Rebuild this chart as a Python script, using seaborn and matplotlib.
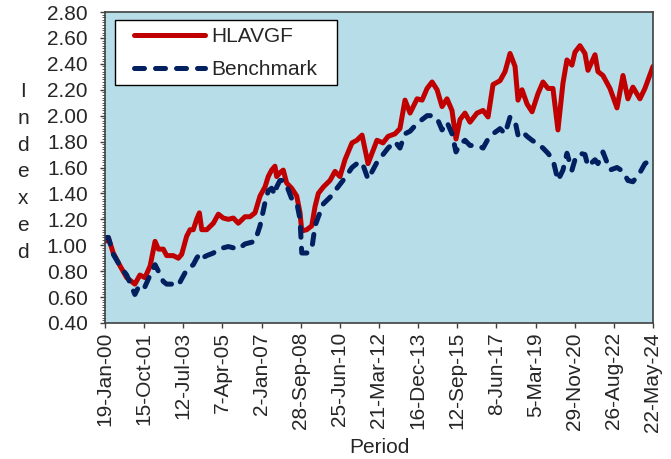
import matplotlib
matplotlib.use("Agg")
import matplotlib.pyplot as plt
import matplotlib.ticker as mticker
import matplotlib.patches as mpatches
import seaborn as sns
import pandas as pd

# values
dates = [
    "2000-01-19", "2000-03-13", "2000-06-01", "2000-09-20", "2001-01-05", "2001-05-18", "2001-08-07", "2001-10-28", "2002-01-20", "2002-04-10",
    "2002-06-03", "2002-08-22", "2002-10-16", "2003-01-31", "2003-04-22", "2003-06-16", "2003-09-05", "2003-10-30", "2003-12-21", "2004-02-14",
    "2004-03-29", "2004-05-07", "2004-07-27", "2004-11-11", "2005-01-31", "2005-04-20", "2005-07-11", "2005-10-01", "2005-12-20", "2006-04-08",
    "2006-06-28", "2006-09-17", "2006-12-08", "2007-02-27", "2007-04-20", "2007-06-14", "2007-08-07", "2007-09-04", "2007-10-27", "2007-12-20",
    "2008-02-13", "2008-05-04", "2008-07-25", "2008-09-17", "2008-10-15", "2009-01-04", "2009-03-26", "2009-05-19", "2009-07-11", "2009-10-01",
    "2010-01-16", "2010-04-07", "2010-06-27", "2010-09-16", "2011-01-08", "2011-03-28", "2011-06-20", "2011-09-25", "2012-02-17", "2012-05-25",
    "2012-08-15", "2012-12-06", "2013-02-24", "2013-05-17", "2013-08-07", "2013-11-29", "2014-02-18", "2014-05-10", "2014-07-30", "2014-10-19",
    "2015-01-08", "2015-03-29", "2015-06-18", "2015-08-22", "2015-10-26", "2016-01-15", "2016-04-05", "2016-07-28", "2016-11-03", "2017-01-23",
    "2017-04-14", "2017-08-06", "2017-10-26", "2018-01-15", "2018-04-06", "2018-05-24", "2018-07-28", "2018-10-18", "2019-01-07", "2019-04-13",
    "2019-07-03", "2019-09-22", "2019-12-12", "2020-03-02", "2020-05-22", "2020-07-26", "2020-10-15", "2020-12-03", "2021-02-22", "2021-05-14",
    "2021-07-02", "2021-10-24", "2021-12-11", "2022-03-02", "2022-06-24", "2022-10-16", "2023-01-21", "2023-04-11", "2023-07-01", "2023-10-23",
    "2024-01-12", "2024-05-22",
]

hlavgf = [
    1.03, 1.06, 0.94, 0.84, 0.75, 0.70, 0.77, 0.75, 0.84, 1.03,
    0.97, 0.97, 0.92, 0.92, 0.90, 0.93, 1.07, 1.12, 1.12, 1.20,
    1.25, 1.12, 1.12, 1.17, 1.24, 1.21, 1.20, 1.21, 1.17, 1.22,
    1.22, 1.25, 1.38, 1.45, 1.53, 1.58, 1.61, 1.53, 1.56, 1.58,
    1.48, 1.44, 1.38, 1.25, 1.11, 1.12, 1.15, 1.30, 1.40, 1.45,
    1.50, 1.57, 1.53, 1.66, 1.79, 1.81, 1.85, 1.63, 1.81, 1.79,
    1.84, 1.86, 1.90, 2.12, 2.02, 2.13, 2.12, 2.21, 2.26, 2.20,
    2.07, 2.13, 2.04, 1.82, 1.97, 2.02, 1.95, 2.02, 2.04, 1.99,
    2.24, 2.27, 2.34, 2.48, 2.38, 2.12, 2.20, 2.09, 2.03, 2.17,
    2.26, 2.21, 2.21, 1.89, 2.25, 2.43, 2.39, 2.49, 2.54, 2.48,
    2.35, 2.47, 2.34, 2.31, 2.21, 2.06, 2.31, 2.13, 2.22, 2.13,
    2.21, 2.38,
]

benchmark = [
    1.06, 1.06, 0.93, 0.84, 0.77, 0.62, 0.70, 0.68, 0.77, 0.85,
    0.80, 0.72, 0.70, 0.70, 0.69, 0.74, 0.81, 0.83, 0.85, 0.90,
    0.93, 0.90, 0.92, 0.94, 0.97, 0.98, 0.99, 0.98, 0.97, 1.01,
    1.02, 1.03, 1.15, 1.33, 1.42, 1.44, 1.39, 1.45, 1.50, 1.50,
    1.46, 1.36, 1.33, 1.20, 0.94, 0.94, 0.97, 1.15, 1.22, 1.32,
    1.37, 1.42, 1.47, 1.52, 1.60, 1.63, 1.64, 1.51, 1.64, 1.70,
    1.75, 1.80, 1.75, 1.86, 1.88, 1.94, 1.97, 2.00, 2.00, 1.98,
    1.89, 1.95, 1.86, 1.72, 1.78, 1.81, 1.77, 1.77, 1.75, 1.82,
    1.86, 1.90, 1.86, 1.99, 1.96, 1.85, 1.88, 1.84, 1.81, 1.78,
    1.75, 1.71, 1.66, 1.50, 1.58, 1.71, 1.58, 1.66, 1.71, 1.70,
    1.61, 1.66, 1.63, 1.72, 1.58, 1.60, 1.57, 1.50, 1.49, 1.56,
    1.63, 1.67,
]

df = pd.DataFrame({"date": pd.to_datetime(dates), "HLAVGF": hlavgf, "Benchmark": benchmark})

sns.set_style("ticks")
plt.rcParams["font.family"] = ["Liberation Sans", "DejaVu Sans"]

W, H = 671, 459
fig = plt.figure(figsize=(W / 100, H / 100), dpi=100)
ax = fig.add_axes([105 / W, 1 - 323 / H, 548 / W, 311 / H])
ax.set_facecolor("#B7DEE8")

sns.lineplot(data=df, x="date", y="HLAVGF", ax=ax, color="#C00000", lw=3.6,
             label="HLAVGF", solid_capstyle="round", solid_joinstyle="round")
sns.lineplot(data=df, x="date", y="Benchmark", ax=ax, color="#002060", lw=3.6,
             label="Benchmark", linestyle=(0, (2.0, 2.2)), dash_capstyle="round")

start = pd.Timestamp("2000-01-19")
end = pd.Timestamp("2024-05-22")
ticks = pd.date_range(start, periods=15, freq="635D")
ax.set_xlim(start, end)
ax.set_xticks(ticks)
ax.set_xticklabels([f"{d.day}-{d.strftime('%b-%y')}" for d in ticks], rotation=90, fontsize=15)

ax.set_ylim(0.4, 2.8)
ax.set_yticks([0.4 + 0.2 * i for i in range(13)])
ax.yaxis.set_major_formatter(mticker.FormatStrFormatter("%.2f"))
ax.tick_params(axis="y", labelsize=15, pad=9)
ax.tick_params(axis="x", pad=3)
ax.tick_params(which="major", length=3.5, width=1, color="#404040")
ax.yaxis.set_minor_locator(mticker.AutoMinorLocator(10))
ax.tick_params(which="minor", length=2, width=0.6, color="#404040")

for s in ax.spines.values():
    s.set_color("#404040")
    s.set_linewidth(1.2)

ax.set_xlabel("Period", fontsize=15, labelpad=5)
ax.set_ylabel("")
fig.text(23 / W, 1 - 172 / H, "\n".join("Indexed"), ha="center", va="center",
         fontsize=15, linespacing=1.52)

# legend box drawn separately so its padding can match the reference
box = mpatches.Rectangle((115 / W, 1 - 85 / H), 222 / W, 65 / H,
                         transform=fig.transFigure, facecolor="white",
                         edgecolor="black", lw=1.0, zorder=5, clip_on=False)
ax.add_patch(box)
leg = ax.legend(loc="upper left", bbox_to_anchor=(134 / W, 1 - 27 / H),
                bbox_transform=fig.transFigure, borderaxespad=0, borderpad=0,
                frameon=False, fontsize=15, handlelength=3.4, handletextpad=0.3,
                labelspacing=0.68)
leg.set_zorder(6)

fig.savefig("out.png", dpi=100)
